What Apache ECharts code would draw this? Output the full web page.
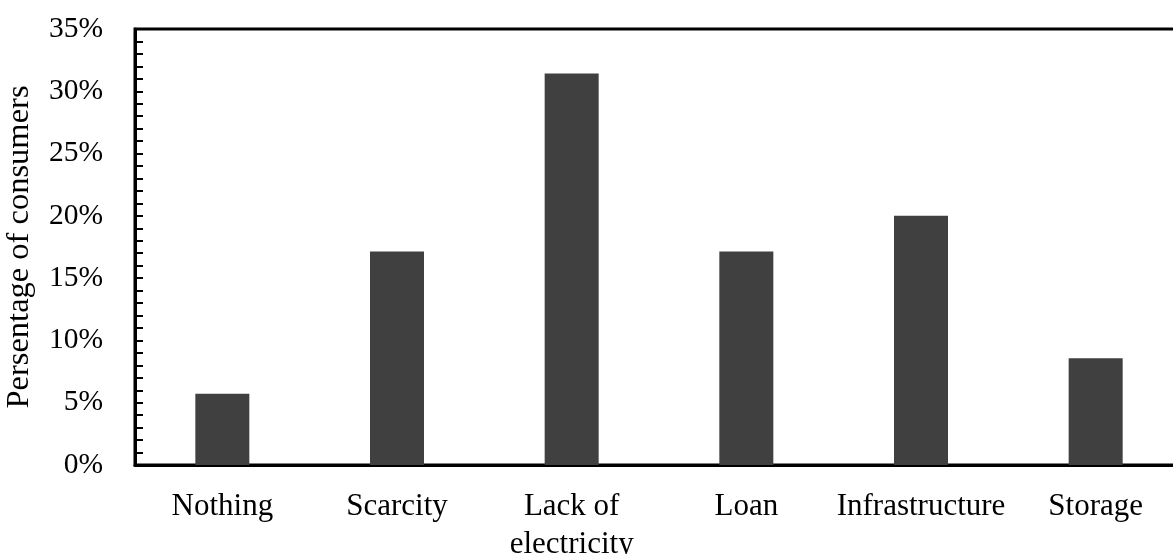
<!DOCTYPE html>
<html>
<head>
<meta charset="utf-8">
<script src="https://cdn.jsdelivr.net/npm/echarts@6/dist/echarts.min.js"></script>
<style>html,body{margin:0;padding:0;background:#fff}#c{width:1173px;height:554px}</style>
</head>
<body>
<div id="c"></div>
<script>
const categories = ['Nothing', 'Scarcity', 'Lack of\nelectricity', 'Loan', 'Infrastructure', 'Storage'];
const values = [5.71, 17.14, 31.43, 17.14, 20.0, 8.57];
const yAxisName = 'Persentage of consumers';

const font = 'Liberation Serif';
const chart = echarts.init(document.getElementById('c'), null, {renderer: 'canvas'});
chart.setOption({
  animation: false,
  backgroundColor: '#fff',
  grid: {left: 135, top: 29, width: 1048, height: 436, show: true, borderColor: '#000', borderWidth: 3, containLabel: false, outerBoundsMode: 'none'},
  xAxis: {
    type: 'category',
    data: categories,
    axisLine: {lineStyle: {color: '#000', width: 3}},
    axisTick: {inside: true, length: 6, alignWithLabel: true, lineStyle: {color: '#000', width: 2}},
    axisLabel: {color: '#000', fontFamily: font, fontSize: 31, margin: 23, lineHeight: 38, interval: 0}
  },
  yAxis: {
    type: 'value',
    min: 0, max: 35, interval: 5,
    name: yAxisName,
    nameLocation: 'middle',
    nameGap: 99,
    nameTextStyle: {color: '#000', fontFamily: font, fontSize: 32.5},
    splitLine: {show: false},
    axisLine: {show: true, lineStyle: {color: '#000', width: 3}},
    axisTick: {show: true, inside: true, length: 8, lineStyle: {color: '#000', width: 2}},
    minorTick: {show: true, splitNumber: 5, length: 8, lineStyle: {color: '#000', width: 2}},
    axisLabel: {color: '#000', fontFamily: font, fontSize: 29.5, margin: 32, formatter: v => v + '%'}
  },
  series: [{
    type: 'bar',
    data: values,
    barWidth: 54,
    itemStyle: {color: '#404040'}
  }]
});
</script>
</body>
</html>
